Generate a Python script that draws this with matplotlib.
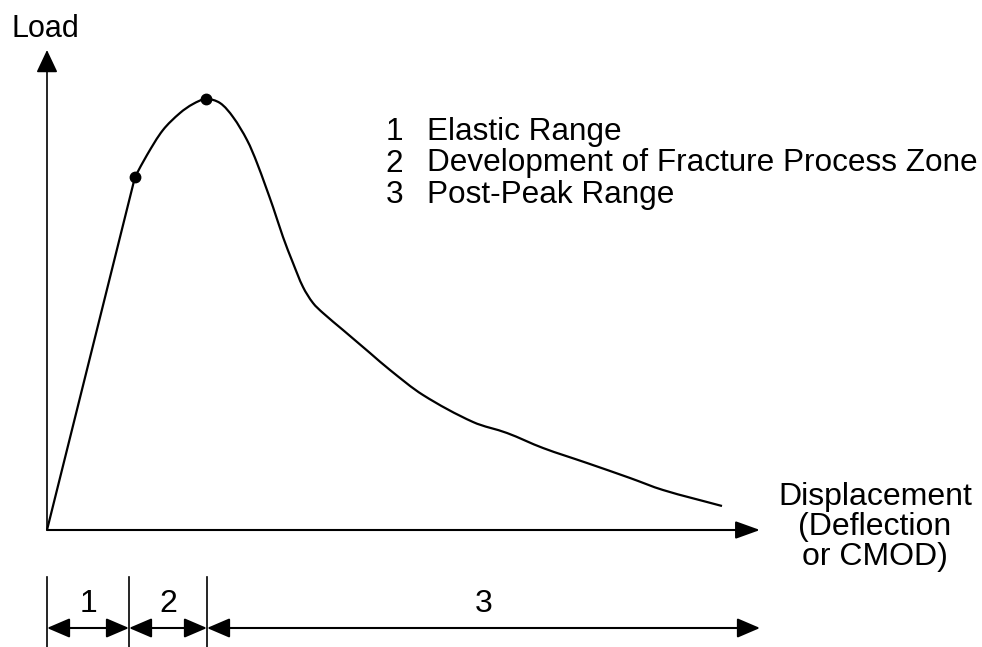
import matplotlib
matplotlib.use("Agg")
import matplotlib.pyplot as plt
from matplotlib.path import Path
from matplotlib.patches import PathPatch
import numpy as np

plt.rcParams['font.family'] = ['Liberation Sans', 'DejaVu Sans']

# load-displacement curve (arbitrary units)
disp = [0.00, 0.88, 1.00, 1.16, 1.33, 1.46, 1.59, 1.73, 1.86, 2.00, 2.10, 2.26,
        2.36, 2.46, 2.56, 2.66, 2.76, 2.96, 3.23, 3.43, 3.76, 4.26, 4.60, 4.96,
        5.40, 5.83, 6.16, 6.75]
load = [0.00, 3.53, 3.75, 4.00, 4.17, 4.26, 4.31, 4.27, 4.13, 3.90, 3.67, 3.23,
        2.93, 2.67, 2.43, 2.27, 2.17, 2.00, 1.77, 1.60, 1.35, 1.08, 0.97, 0.82,
        0.67, 0.52, 0.40, 0.24]
idx_elastic = 1   # end of linear range
idx_peak = 6      # peak load

# stage boundaries on the displacement axis
stage_bounds = [0.00, 0.82, 1.60, 7.13]
y_end = 4.80

stage_nums = ["1", "2", "3"]
stage_names = ["Elastic Range", "Development of Fracture Process Zone", "Post-Peak Range"]
x_label = ["Displacement", "(Deflection", "or CMOD)"]

disp = np.array(disp)
load = np.array(load)


def smooth_path(x, y, start):
    # straight elastic branch up to `start`, then a chord-length Hermite spline
    pts = np.column_stack([x, y])[start:]
    d = np.hypot(*np.diff(pts, axis=0).T)
    t = np.concatenate([[0], np.cumsum(d)])
    n = len(pts)
    tan = np.zeros_like(pts)
    tan[0] = (pts[1] - pts[0]) / (t[1] - t[0])
    tan[-1] = (pts[-1] - pts[-2]) / (t[-1] - t[-2])
    for i in range(1, n - 1):
        tan[i] = (pts[i + 1] - pts[i - 1]) / (t[i + 1] - t[i - 1])
    verts = [(x[0], y[0]), pts[0]]
    codes = [Path.MOVETO, Path.LINETO]
    for i in range(n - 1):
        h = t[i + 1] - t[i]
        verts += [pts[i] + tan[i] * h / 3, pts[i + 1] - tan[i + 1] * h / 3, pts[i + 1]]
        codes += [Path.CURVE4] * 3
    return Path(verts, codes)


fig = plt.figure(figsize=(9.82, 6.47), dpi=100)
ax = fig.add_axes([0, 0, 1, 1])
ax.set_xlim(-0.47, 9.35)
ax.set_ylim(-1.17, 5.30)
ax.axis('off')

# axes with arrow heads
ax.annotate('', xy=(stage_bounds[-1], 0), xytext=(0, 0),
            arrowprops=dict(arrowstyle='-|>,head_length=0.75,head_width=0.27',
                            mutation_scale=20, lw=1.5, color='k',
                            shrinkA=0, shrinkB=0))
ax.annotate('', xy=(0, y_end), xytext=(0, 0),
            arrowprops=dict(arrowstyle='-|>,head_length=0.7,head_width=0.33',
                            mutation_scale=20, lw=1.2, color='k',
                            shrinkA=0, shrinkB=0))

ax.add_patch(PathPatch(smooth_path(disp, load, idx_elastic), facecolor='none',
                       edgecolor='k', lw=1.6, joinstyle='round'))
pts = [idx_elastic, idx_peak]
ax.plot(disp[pts], load[pts], 'o', color='k', markersize=7.5)

ax.text(-0.35, 4.93, "Load", fontsize=22, ha='left', va='baseline')

for i, (n, s) in enumerate(zip(stage_nums, stage_names)):
    yb = 3.90 - i * 0.315
    ax.text(3.56, yb, n, fontsize=22.7, ha='right', va='baseline')
    ax.text(3.80, yb, s, fontsize=22.7, ha='left', va='baseline')

for i, s in enumerate(x_label):
    ax.text(8.28, 0.25 - i * 0.30, s, fontsize=23, ha='center', va='baseline')

# stage ranges below the axis
for b in stage_bounds[:3]:
    ax.plot([b, b], [-0.47, -1.17], color='k', lw=1.2)
for i in range(3):
    ax.annotate('', xy=(stage_bounds[i + 1], -0.98), xytext=(stage_bounds[i], -0.98),
                arrowprops=dict(arrowstyle='<|-|>,head_length=0.7,head_width=0.3',
                                mutation_scale=20, lw=1.5, color='k',
                                shrinkA=0, shrinkB=0))
    ax.text((stage_bounds[i] + stage_bounds[i + 1]) / 2, -0.82, stage_nums[i],
            fontsize=23, ha='center', va='baseline')

fig.savefig("out.png", dpi=100)
